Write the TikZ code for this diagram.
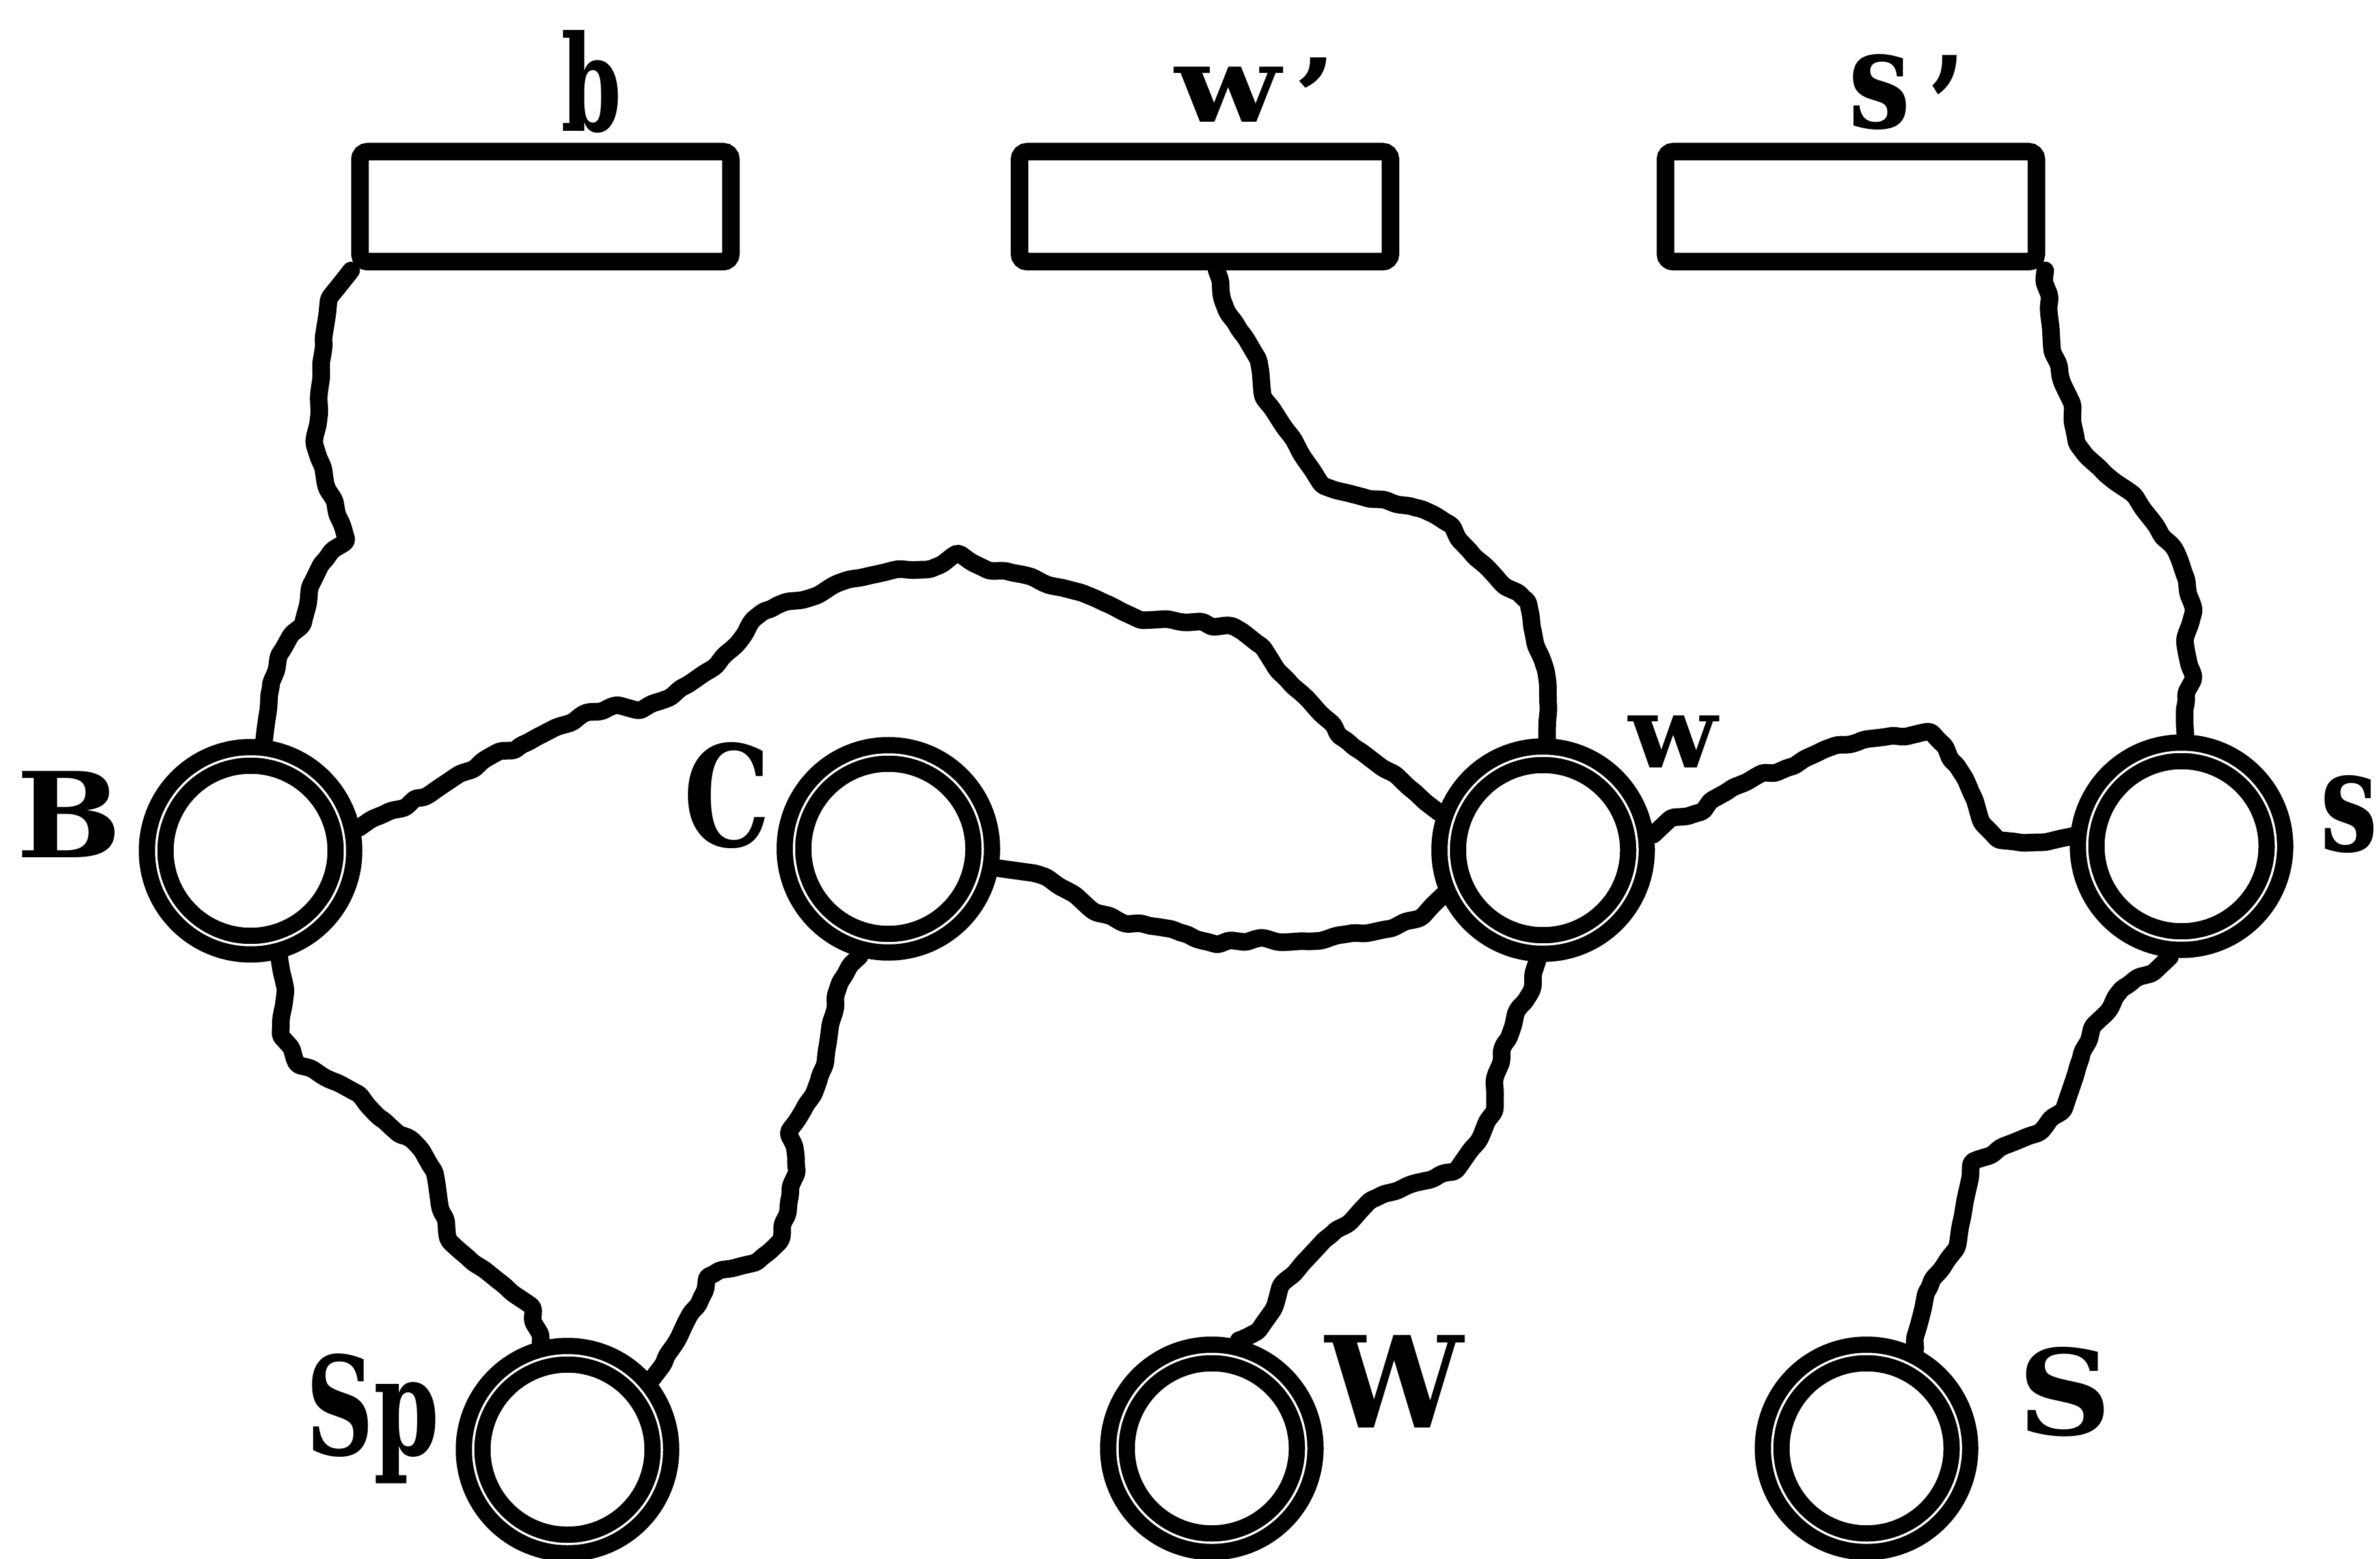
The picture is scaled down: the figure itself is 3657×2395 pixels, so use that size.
\documentclass[tikz,border=0pt]{standalone}
\usepackage{fontspec}
\setmainfont{DejaVu Serif}
\usetikzlibrary{decorations.pathmorphing,calc}
\newcommand\lbltext[4]{\fontsize{#1}{#1}\selectfont\bfseries\scalebox{#2}[#3]{#4}}
\begin{document}
\begin{tikzpicture}[x=0.1mm,y=-0.1mm,
  cell/.style={circle, draw=black, double=white, double distance=0.35mm, line width=2.5mm, minimum size=29mm, inner sep=0pt, outer sep=2.6mm},
  box/.style={rectangle, draw=black, line width=2.7mm, minimum width=57mm, minimum height=16.9mm, rounded corners=1.2mm, inner sep=0pt},
  wire/.style={line width=2.7mm, line join=round, line cap=round, rounded corners=0.5mm, decorate, decoration={random steps, segment length=2mm, amplitude=0.45mm}},
  lbl/.style={inner sep=0pt, anchor=base west}]
\pgfmathsetseed{11}
\useasboundingbox (0,0) rectangle (3657,2395);
\clip (0,0) rectangle (3657,2395);

% boxes
\node[box] (rb)  at (838,317.5) {};
\node[box] (rwp) at (1851.5,317.5) {};
\node[box] (rsp) at (2844,317.5) {};

% cells
\node[cell] (B)  at (385,1307) {};
\node[cell] (C)  at (1365,1304) {};
\node[cell] (w)  at (2371,1306) {};
\node[cell] (s)  at (3352,1300) {};
\node[cell] (Sp) at (872,2227) {};
\node[cell] (W)  at (1862,2225) {};
\node[cell] (S)  at (2868,2225) {};

% labels
\node[lbl] (lb)  at (862,202)   {\lbltext{20.4mm}{0.65}{1}{b}};
\node[lbl] (lwp) at (1805,188)  {\lbltext{16.3mm}{1.16}{1}{w\kern0.1em\raisebox{-0.12em}{’}}};
\node[lbl] (lsp) at (2840,197)  {\lbltext{21.2mm}{0.8}{1}{s\kern0.15em\raisebox{-0.2em}{’}}};
\node[lbl] (lw)  at (2502,1180) {\lbltext{15.4mm}{1.03}{1}{w}};
\node[lbl] (ls)  at (3565,1307) {\lbltext{21.8mm}{0.72}{1}{s}};
\node[lbl] (lB)  at (25,1317)   {\lbltext{18.2mm}{1.05}{1}{B}};
\node[lbl] (lC)  at (1050,1300) {\lbltext{22.7mm}{0.74}{0.95}{C}};
\node[lbl] (lSp) at (470,2235)  {\lbltext{20mm}{0.72}{1.05}{Sp}};
\node[lbl] (lW)  at (2036,2193) {\lbltext{19.5mm}{0.97}{1}{W}};
\node[lbl] (lS)  at (3100,2204) {\lbltext{18.2mm}{1.1}{1}{S}};

% wires
\draw[wire] (rb.south west) -- (508,455) -- (497,536) -- (490,606) -- (483,676) -- (501,746) -- (525,805) -- (532,828) -- (497,863) -- (478,898) -- (466,956) -- (431,1003) -- (415,1061) -- (408,1119) -- (B.85);
\draw[wire] ($(rwp.south)+(18,0)$) -- (1877,455) -- (1901,501) -- (1931,548) -- (1940,606) -- (1971,653) -- (2001,700) -- (2029,742) -- (2099,765) -- (2180,781) -- (2227,805) -- (2262,851) -- (2309,898) -- (2344,921) -- (2355,968) -- (2374,1026) -- (2379,1084) -- (w.88);
\draw[wire] (rsp.south east) -- (3148,478) -- (3153,536) -- (3167,583) -- (3183,618) -- (3190,676) -- (3230,723) -- (3276,758) -- (3311,805) -- (3339,840) -- (3358,886) -- (3370,933) -- (3358,979) -- (3370,1038) -- (3358,1084) -- (s.88);
\draw[wire] (B.12) -- (595,1248) -- (653,1224) -- (688,1201) -- (746,1166) -- (805,1143) -- (851,1119) -- (898,1096) -- (944,1084) -- (979,1091) -- (1026,1073) -- (1061,1049) -- (1096,1026) -- (1131,991) -- (1154,956) -- (1189,933) -- (1236,921) -- (1283,898) -- (1329,886) -- (1376,875) -- (1423,875) -- (1469,851) -- (1516,875) -- (1562,881) -- (1609,898) -- (1656,909) -- (1702,928) -- (1749,951) -- (1819,956) -- (1889,961) -- (1936,991) -- (1982,1049) -- (2029,1096) -- (2075,1143) -- (2122,1178) -- (2169,1213) -- (w.160);
\draw[wire] (C.-10) -- (1586,1341) -- (1632,1364) -- (1679,1399) -- (1726,1418) -- (1772,1423) -- (1819,1434) -- (1866,1450) -- (1936,1441) -- (2006,1446) -- (2075,1434) -- (2134,1427) -- (2180,1411) -- (2204,1388) -- (w.203);
\draw[wire] (w.8) -- (2565,1259) -- (2612,1248) -- (2658,1213) -- (2705,1189) -- (2752,1178) -- (2798,1154) -- (2845,1143) -- (2903,1131) -- (2962,1124) -- (2985,1143) -- (3008,1178) -- (3032,1224) -- (3043,1259) -- (3067,1287) -- (3102,1294) -- (3137,1294) -- (3172,1287) -- (s.172);
\draw[wire] (B.-75) -- (438,1516) -- (431,1586) -- (455,1632) -- (501,1656) -- (548,1679) -- (595,1726) -- (630,1749) -- (665,1796) -- (676,1854) -- (688,1901) -- (723,1936) -- (770,1971) -- (816,2006) -- (Sp.104);
\draw[wire] (C.-105) -- (1294,1504) -- (1283,1551) -- (1271,1609) -- (1259,1656) -- (1236,1702) -- (1213,1737) -- (1224,1796) -- (1213,1842) -- (1201,1901) -- (1166,1936) -- (1131,1947) -- (1090,1960) -- (1075,2000) -- (1040,2060) -- (Sp.40);
\draw[wire] (w.-93) -- (2355,1516) -- (2332,1551) -- (2309,1609) -- (2297,1656) -- (2297,1702) -- (2274,1749) -- (2239,1796) -- (2169,1819) -- (2110,1842) -- (2075,1877) -- (2040,1901) -- (2006,1936) -- (1971,1971) -- (1959,2006) -- (1936,2041) -- (W.76);
\draw[wire] (s.-96) -- (3311,1492) -- (3265,1516) -- (3241,1551) -- (3218,1574) -- (3195,1632) -- (3172,1702) -- (3137,1737) -- (3078,1761) -- (3032,1784) -- (3020,1842) -- (3008,1912) -- (2985,1947) -- (2962,1982) -- (2950,2029) -- (S.64);
\end{tikzpicture}
\end{document}
